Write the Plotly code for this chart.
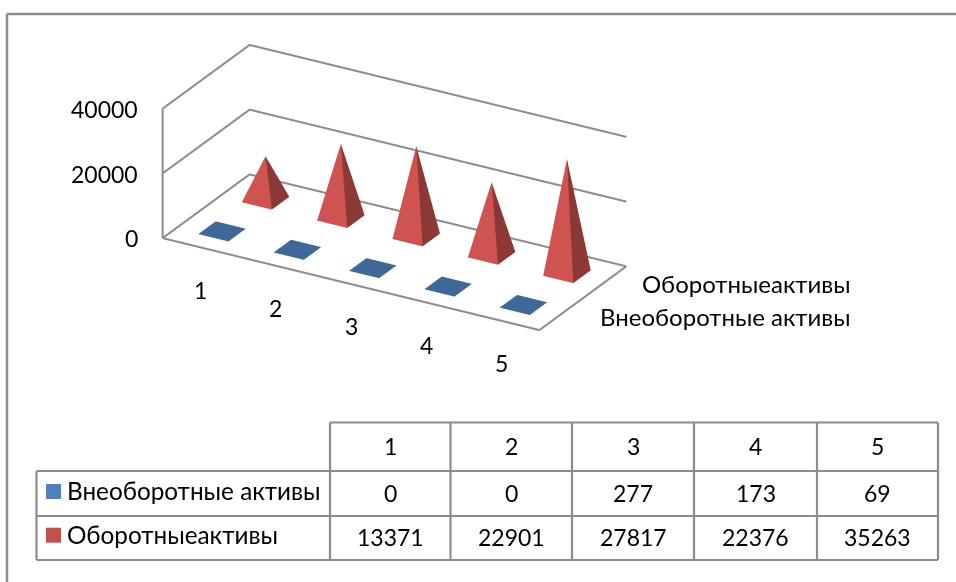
import plotly.graph_objects as go

# Chart data
CATEGORIES = [1, 2, 3, 4, 5]
SERIES_NAMES = ["Внеоборотные активы", "Оборотныеактивы"]
NON_CURRENT = [0, 0, 277, 173, 69]
CURRENT = [13371, 22901, 27817, 22376, 35263]
Z_TICKS = [0, 20000, 40000]

FONT = "Lato, Carlito, Calibri, 'Noto Sans', sans-serif"
TEXT_SIZE = 23
NAME_SIZE = 24.3
GRID = "#8c8c8c"
W, H = 956, 582
HALF = 0.2  # half of a pyramid's footprint, in category units


def pyramids(values, depth, face_colors, name):
    """One mesh3d holding a square-based pyramid per category."""
    xs, ys, zs, i, j, k, colors = [], [], [], [], [], [], []
    for pos, val in enumerate(values):
        cx = pos + 0.5
        b = len(xs)
        xs += [cx - HALF, cx + HALF, cx + HALF, cx - HALF, cx]
        ys += [depth - HALF, depth - HALF, depth + HALF, depth + HALF, depth]
        zs += [0, 0, 0, 0, val]
        # front, right, back, left, then the two base triangles
        i += [b, b + 1, b + 2, b + 3, b, b]
        j += [b + 1, b + 2, b + 3, b, b + 1, b + 2]
        k += [b + 4, b + 4, b + 4, b + 4, b + 2, b + 3]
        colors += face_colors
    return go.Mesh3d(
        x=xs, y=ys, z=zs, i=i, j=j, k=k, facecolor=colors, name=name,
        flatshading=True, hoverinfo="skip",
        lighting=dict(ambient=1, diffuse=0, specular=0, fresnel=0, roughness=1),
    )


RED_FACES = ["#cf5451", "#8c3836", "#8c3836", "#cf5451", "#8c3836", "#8c3836"]
BLUE_FACES = ["#3f6797"] * 6

fig = go.Figure()

# Walls and floor outline
LINE = dict(color=GRID, width=4)
for z in Z_TICKS:
    fig.add_trace(go.Scatter3d(
        x=[0, 0, 5], y=[0, 2, 2], z=[z, z, z], mode="lines",
        line=LINE, hoverinfo="skip", showlegend=False))
fig.add_trace(go.Scatter3d(
    x=[0, 0], y=[0, 0], z=[Z_TICKS[0], Z_TICKS[-1]], mode="lines",
    line=LINE, hoverinfo="skip", showlegend=False))
fig.add_trace(go.Scatter3d(
    x=[0, 5, 5], y=[0, 0, 2], z=[0, 0, 0], mode="lines",
    line=LINE, hoverinfo="skip", showlegend=False))

fig.add_trace(pyramids(NON_CURRENT, 0.5, BLUE_FACES, SERIES_NAMES[0]))
fig.add_trace(pyramids(CURRENT, 1.5, RED_FACES, SERIES_NAMES[1]))

scene_notes = []
for z in Z_TICKS:
    scene_notes.append(dict(x=0, y=0, z=z, text=str(z), showarrow=False,
                            xanchor="right", xshift=-23, yshift=0))
for pos, c in enumerate(CATEGORIES):
    scene_notes.append(dict(x=pos + 0.5, y=0, z=0, text=str(c), showarrow=False,
                            yshift=-42))
for note in scene_notes:
    note["font"] = dict(family=FONT, size=TEXT_SIZE, color="black")


def px(x):
    return x / W


def py(y):
    return 1 - y / H


shapes = []
notes = []


def line(x0, y0, x1, y1, width=2.2):
    shapes.append(dict(type="line", xref="paper", yref="paper",
                       x0=px(x0), y0=py(y0), x1=px(x1), y1=py(y1),
                       line=dict(color=GRID, width=width)))


def label(x, y, text, anchor="center", size=TEXT_SIZE):
    notes.append(dict(xref="paper", yref="paper", x=px(x), y=py(y), text=str(text),
                      showarrow=False, xanchor=anchor, yanchor="middle",
                      font=dict(family=FONT, size=size, color="black")))


# Outer frame
line(7, 14, W, 14, 2.5)
line(7, 14, 7, H, 2.5)

# Series names beside the floor
label(852, 283.5, SERIES_NAMES[1], "right", 24)
label(852.5, 316, SERIES_NAMES[0], "right", 24)

# Data table
COL_X = [330, 450.5, 572, 694, 817, 938]
ROW_Y = [422.5, 471, 516, 560]
NAME_LEFT = 36.5
for y in ROW_Y[:1]:
    line(COL_X[0], y, COL_X[-1], y)
for y in ROW_Y[1:]:
    line(NAME_LEFT, y, COL_X[-1], y)
for x in COL_X:
    line(x, ROW_Y[0], x, ROW_Y[-1])
line(NAME_LEFT, ROW_Y[1], NAME_LEFT, ROW_Y[-1])

for col, c in enumerate(CATEGORIES):
    cx = (COL_X[col] + COL_X[col + 1]) / 2
    label(cx, 446, c)
    label(cx, 493, NON_CURRENT[col])
    label(cx, 537, CURRENT[col])

label(65, 490.5, SERIES_NAMES[0], "left", NAME_SIZE)
label(65, 534, SERIES_NAMES[1], "left", NAME_SIZE)
for top, color in ((484, "#4f81bd"), (527.7, "#c0504d")):
    shapes.append(dict(type="rect", xref="paper", yref="paper",
                       x0=px(46), x1=px(61), y0=py(top), y1=py(top + 15),
                       fillcolor=color, line=dict(width=0)))

invisible = dict(visible=False)
fig.update_layout(
    width=W, height=H, margin=dict(l=0, r=0, t=0, b=0),
    paper_bgcolor="white", showlegend=False, hovermode=False,
    shapes=shapes, annotations=notes,
    scene=dict(
        domain=dict(x=[0, 0.8253], y=[0.355, 1]),
        xaxis=dict(range=[0, 5], **invisible),
        yaxis=dict(range=[0, 2], **invisible),
        zaxis=dict(range=[0, 40000], **invisible),
        aspectmode="manual",
        aspectratio=dict(x=2.32, y=0.928, z=0.762),
        camera=dict(
            projection=dict(type="orthographic"),
            up=dict(x=0, y=0, z=1),
            center=dict(x=0, y=0, z=0),
            eye=dict(x=0.453, y=-0.785, z=0.423),
        ),
        annotations=scene_notes,
        bgcolor="white",
    ),
)

fig.write_html("out.html", config=dict(displayModeBar=False))
